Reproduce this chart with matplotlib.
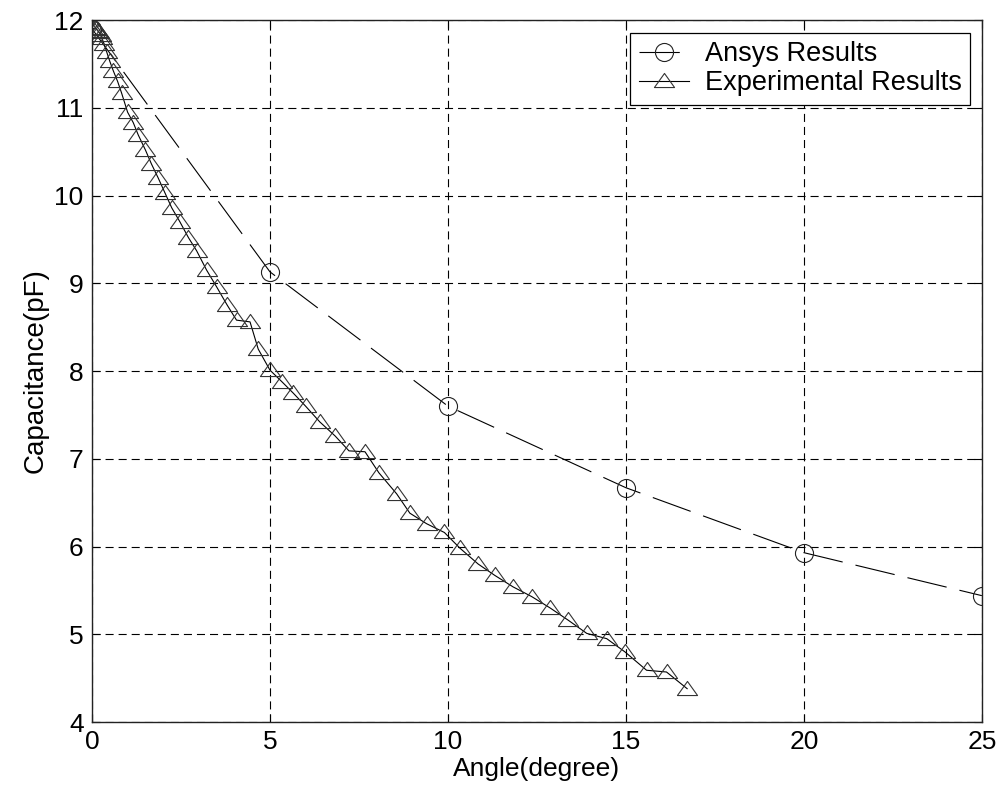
import matplotlib
matplotlib.use("Agg")
import matplotlib.pyplot as plt
from matplotlib.path import Path

plt.rcParams['font.family'] = ['Liberation Sans', 'DejaVu Sans']
plt.rcParams['lines.scale_dashes'] = False

# Ansys simulation results
ansys_angle = [0, 5, 10, 15, 20, 25]
ansys_cap = [11.9, 9.13, 7.6, 6.67, 5.93, 5.44]

# Experimental results
exp_angle = [0.0, 0.04, 0.08, 0.12, 0.16, 0.2, 0.24, 0.28, 0.34, 0.41, 0.5, 0.6,
             0.72, 0.83, 1.0, 1.16, 1.3, 1.5, 1.67, 1.86, 2.05, 2.24, 2.47, 2.71,
             2.94, 3.22, 3.5, 3.8, 4.06, 4.44, 4.67, 5.0, 5.33, 5.65, 6.0, 6.4,
             6.83, 7.22, 7.67, 8.06, 8.56, 8.93, 9.4, 9.9, 10.34, 10.85, 11.32,
             11.83, 12.35, 12.87, 13.38, 13.9, 14.46, 14.97, 15.58, 16.14, 16.72]
exp_cap = [11.87, 11.9, 11.91, 11.9, 11.88, 11.86, 11.83, 11.79, 11.73, 11.64,
           11.53, 11.42, 11.3, 11.17, 10.95, 10.83, 10.69, 10.52, 10.36, 10.2,
           10.03, 9.86, 9.7, 9.52, 9.37, 9.15, 8.96, 8.75, 8.58, 8.56, 8.25,
           8.01, 7.88, 7.75, 7.6, 7.42, 7.26, 7.09, 7.08, 6.84, 6.6, 6.38, 6.26,
           6.16, 5.98, 5.8, 5.67, 5.54, 5.43, 5.3, 5.16, 5.01, 4.95, 4.8, 4.59,
           4.57, 4.38]

x_ticks = [0, 5, 10, 15, 20, 25]
y_ticks = [4, 5, 6, 7, 8, 9, 10, 11, 12]

tri = Path([(0, 0.8), (-1, -0.6), (1, -0.6), (0, 0.8)],
           [Path.MOVETO, Path.LINETO, Path.LINETO, Path.CLOSEPOLY])

fig = plt.figure(figsize=(10.01, 7.95), dpi=100)
ax = fig.add_axes([0.0919, 0.0918, 0.889, 0.883])

ax.plot(ansys_angle, ansys_cap, color='black', lw=0.8, dashes=(29, 9.5),
        marker='o', markersize=13, markerfacecolor='none',
        markeredgecolor='#222222', markeredgewidth=0.8, label='Ansys Results')
ax.plot(exp_angle, exp_cap, color='black', lw=0.8, marker=tri, markersize=14.5,
        markerfacecolor='none', markeredgecolor='#333333',
        markeredgewidth=0.8, label='Experimental Results')

ax.set_xlim(0, 25)
ax.set_ylim(4, 12)
ax.set_xticks(x_ticks)
ax.set_yticks(y_ticks)
ax.tick_params(direction='in', length=6, width=0.8, top=True, right=True,
               labelsize=19, pad=6)
ax.grid(True, color='black', lw=0.8, linestyle=(0, (5.8, 3.6)))
for s in ax.spines.values():
    s.set_linewidth(1.0)
    s.set_color('#222222')

ax.set_xlabel('Angle(degree)', fontsize=19, labelpad=2)
ax.set_ylabel('Capacitance(pF)', fontsize=20, labelpad=4)

leg = ax.legend(loc='upper right', bbox_to_anchor=(0.9865, 0.9815),
                borderaxespad=0, fancybox=False, edgecolor='black',
                framealpha=1, fontsize=19.5, handlelength=1.85,
                labelspacing=0.12, borderpad=0.3, handletextpad=0.6)
leg.get_frame().set_linewidth(0.9)

fig.savefig('out.png', dpi=100, facecolor='white')
